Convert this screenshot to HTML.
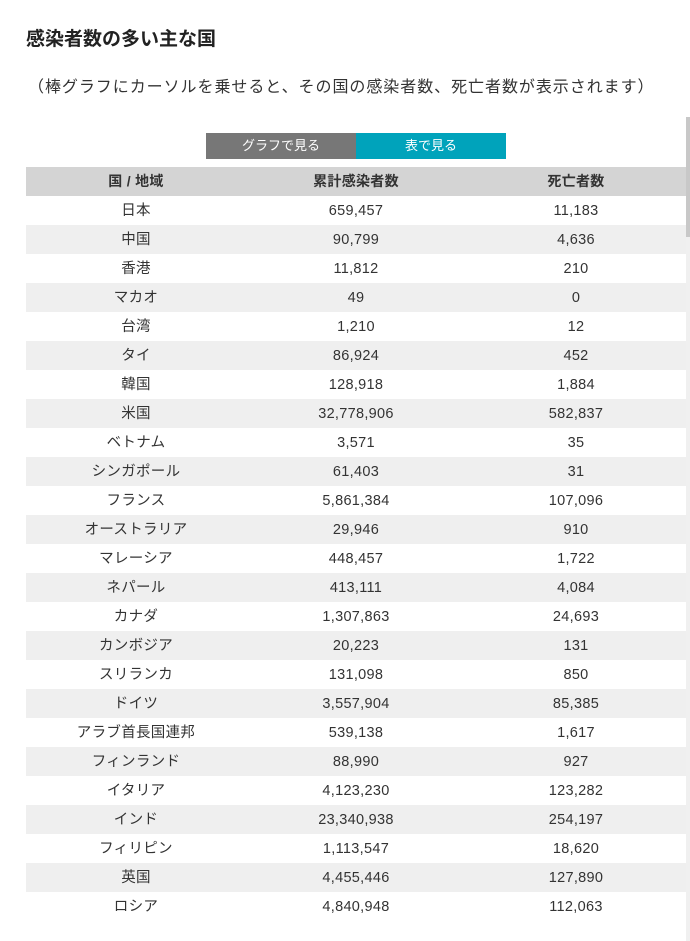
<!DOCTYPE html>
<html><head><meta charset="utf-8"><style>
body{margin:0;width:690px;height:941px;overflow:hidden;background:#fff;font-family:"Liberation Sans","Noto Sans CJK JP",sans-serif;color:#333;position:relative}
h1{position:absolute;left:26px;top:26px;margin:0;font-size:19px;font-weight:bold;line-height:28px;color:#222}
.sub{position:absolute;left:28px;top:76px;font-size:16px;line-height:24px;color:#333;letter-spacing:0.95px}
.btns{position:absolute;left:206px;top:133px;height:26px;display:flex}
.btns div{width:150px;height:26px;line-height:26px;text-align:center;color:#fff;font-size:13px}
table{position:absolute;left:26px;top:167px;width:660px;border-collapse:collapse;font-size:14.5px;letter-spacing:0.3px}
td,th{width:220px;height:29px;padding:0;text-align:center;line-height:29px}
td{padding-top:1px;height:28px;line-height:28px}
th{background:#d4d4d4;font-weight:bold;font-size:14px;color:#333}
tbody tr:nth-child(odd) td{background:#fff}
tbody tr:nth-child(even) td{background:#efefef}
.sb{position:absolute;left:686px;top:117px;width:4px;height:824px;background:#f0f0f0}
.sb div{width:4px;height:120px;margin-top:0;background:#c8c8c8}
</style></head><body>
<h1>感染者数の多い主な国</h1>
<div class="sub">（棒グラフにカーソルを乗せると、その国の感染者数、死亡者数が表示されます）</div>
<div class="btns"><div style="background:#777">グラフで見る</div><div style="background:#00a3bb">表で見る</div></div>
<table>
<thead><tr><th>国 / 地域</th><th>累計感染者数</th><th>死亡者数</th></tr></thead>
<tbody>
<tr><td>日本</td><td>659,457</td><td>11,183</td></tr>
<tr><td>中国</td><td>90,799</td><td>4,636</td></tr>
<tr><td>香港</td><td>11,812</td><td>210</td></tr>
<tr><td>マカオ</td><td>49</td><td>0</td></tr>
<tr><td>台湾</td><td>1,210</td><td>12</td></tr>
<tr><td>タイ</td><td>86,924</td><td>452</td></tr>
<tr><td>韓国</td><td>128,918</td><td>1,884</td></tr>
<tr><td>米国</td><td>32,778,906</td><td>582,837</td></tr>
<tr><td>ベトナム</td><td>3,571</td><td>35</td></tr>
<tr><td>シンガポール</td><td>61,403</td><td>31</td></tr>
<tr><td>フランス</td><td>5,861,384</td><td>107,096</td></tr>
<tr><td>オーストラリア</td><td>29,946</td><td>910</td></tr>
<tr><td>マレーシア</td><td>448,457</td><td>1,722</td></tr>
<tr><td>ネパール</td><td>413,111</td><td>4,084</td></tr>
<tr><td>カナダ</td><td>1,307,863</td><td>24,693</td></tr>
<tr><td>カンボジア</td><td>20,223</td><td>131</td></tr>
<tr><td>スリランカ</td><td>131,098</td><td>850</td></tr>
<tr><td>ドイツ</td><td>3,557,904</td><td>85,385</td></tr>
<tr><td>アラブ首長国連邦</td><td>539,138</td><td>1,617</td></tr>
<tr><td>フィンランド</td><td>88,990</td><td>927</td></tr>
<tr><td>イタリア</td><td>4,123,230</td><td>123,282</td></tr>
<tr><td>インド</td><td>23,340,938</td><td>254,197</td></tr>
<tr><td>フィリピン</td><td>1,113,547</td><td>18,620</td></tr>
<tr><td>英国</td><td>4,455,446</td><td>127,890</td></tr>
<tr><td>ロシア</td><td>4,840,948</td><td>112,063</td></tr>
</tbody></table>
<div class="sb"><div></div></div>
</body></html>
